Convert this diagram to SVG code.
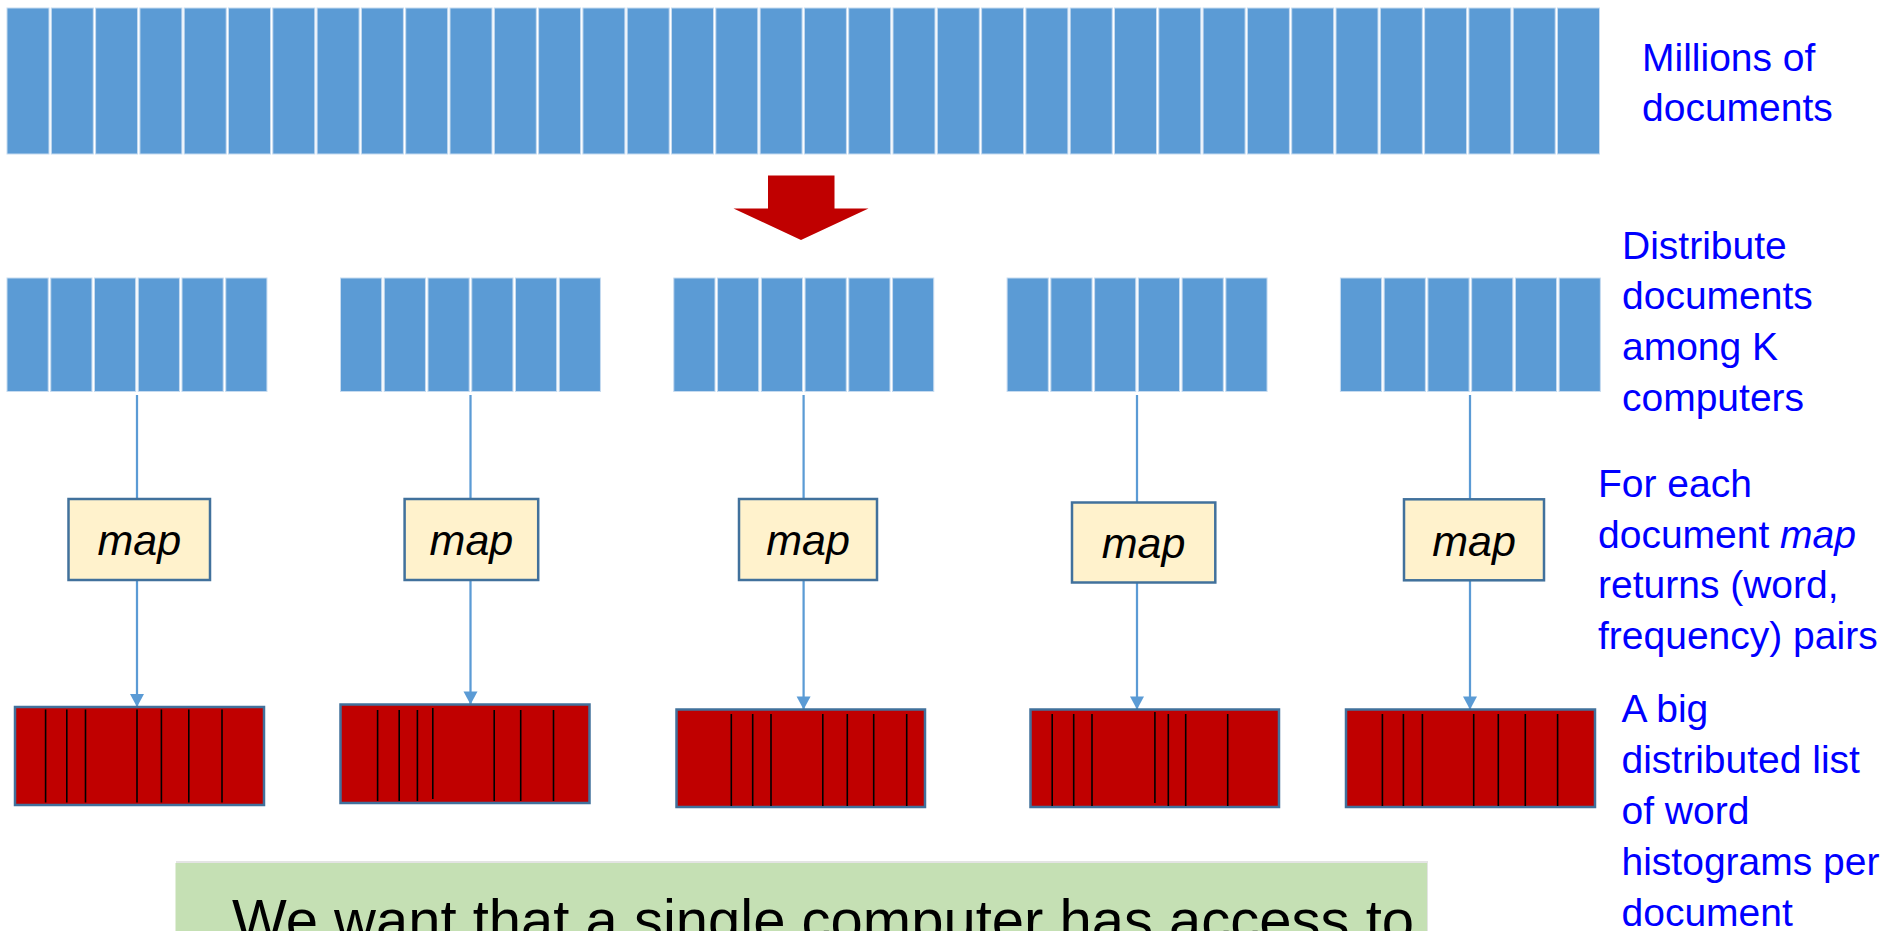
<svg xmlns="http://www.w3.org/2000/svg" xmlns:xlink="http://www.w3.org/1999/xlink" width="1883" height="931" viewBox="0 0 1883 931">
  <style>
    .doc { fill: #5B9BD5; stroke: #C6DBF0; stroke-width: 1; }
    .mapbox { fill: #FFF2CC; stroke: #41719C; stroke-width: 2.5; }
    .maptxt { font-family: "Liberation Sans", Arial, sans-serif; font-style: italic; font-size: 43px; fill: #000; text-anchor: middle; }
    .hist { fill: #C00000; stroke: #41719C; stroke-width: 2.5; }
    .div { stroke: #000; stroke-width: 1.6; }
    .wire { stroke: #5B9BD5; stroke-width: 2.25; fill: none; }
    .note { font-family: "Liberation Sans", Arial, sans-serif; font-size: 39px; fill: #0000FF; }
    .big { font-family: "Liberation Sans", Arial, sans-serif; font-size: 58px; fill: #000; }
  </style>
  <defs>
    <!-- one computer's share of documents: six cells -->
    <g id="chunk">
      <rect class="doc" x="0" y="0" width="41.2" height="113.5"/>
      <rect class="doc" x="43.75" y="0" width="41.2" height="113.5"/>
      <rect class="doc" x="87.5" y="0" width="41.2" height="113.5"/>
      <rect class="doc" x="131.25" y="0" width="41.2" height="113.5"/>
      <rect class="doc" x="175" y="0" width="41.2" height="113.5"/>
      <rect class="doc" x="218.75" y="0" width="41.2" height="113.5"/>
    </g>
    <rect id="cell" class="doc" width="42" height="146"/>
    <marker id="tip" markerUnits="userSpaceOnUse" markerWidth="16" markerHeight="16" viewBox="0 0 16 16" refX="14" refY="8" orient="auto">
      <path d="M1,1 L14,8 L1,15 Z" fill="#5B9BD5"/>
    </marker>
  </defs>

  <rect width="1883" height="931" fill="#FFFFFF"/>

  <!-- all documents -->
  <g id="all-docs">
    <use xlink:href="#cell" x="7" y="8"/>
    <use xlink:href="#cell" x="51.3" y="8"/>
    <use xlink:href="#cell" x="95.6" y="8"/>
    <use xlink:href="#cell" x="139.9" y="8"/>
    <use xlink:href="#cell" x="184.2" y="8"/>
    <use xlink:href="#cell" x="228.5" y="8"/>
    <use xlink:href="#cell" x="272.8" y="8"/>
    <use xlink:href="#cell" x="317.1" y="8"/>
    <use xlink:href="#cell" x="361.4" y="8"/>
    <use xlink:href="#cell" x="405.7" y="8"/>
    <use xlink:href="#cell" x="450" y="8"/>
    <use xlink:href="#cell" x="494.3" y="8"/>
    <use xlink:href="#cell" x="538.6" y="8"/>
    <use xlink:href="#cell" x="582.9" y="8"/>
    <use xlink:href="#cell" x="627.2" y="8"/>
    <use xlink:href="#cell" x="671.5" y="8"/>
    <use xlink:href="#cell" x="715.8" y="8"/>
    <use xlink:href="#cell" x="760.1" y="8"/>
    <use xlink:href="#cell" x="804.4" y="8"/>
    <use xlink:href="#cell" x="848.7" y="8"/>
    <use xlink:href="#cell" x="893" y="8"/>
    <use xlink:href="#cell" x="937.3" y="8"/>
    <use xlink:href="#cell" x="981.6" y="8"/>
    <use xlink:href="#cell" x="1025.9" y="8"/>
    <use xlink:href="#cell" x="1070.2" y="8"/>
    <use xlink:href="#cell" x="1114.5" y="8"/>
    <use xlink:href="#cell" x="1158.8" y="8"/>
    <use xlink:href="#cell" x="1203.1" y="8"/>
    <use xlink:href="#cell" x="1247.4" y="8"/>
    <use xlink:href="#cell" x="1291.7" y="8"/>
    <use xlink:href="#cell" x="1336" y="8"/>
    <use xlink:href="#cell" x="1380.3" y="8"/>
    <use xlink:href="#cell" x="1424.6" y="8"/>
    <use xlink:href="#cell" x="1468.9" y="8"/>
    <use xlink:href="#cell" x="1513.2" y="8"/>
    <use xlink:href="#cell" x="1557.5" y="8"/>
  </g>

  <!-- split arrow -->
  <g id="split-arrow">
    <path d="M768,175.5 L834.5,175.5 L834.5,208.5 L868.5,208.5 L801,240 L733.5,208.5 L768,208.5 Z" fill="#C00000"/>
  </g>

  <!-- per-computer document shares -->
  <g id="share-1"><use xlink:href="#chunk" x="7" y="278"/></g>
  <g id="share-2"><use xlink:href="#chunk" x="340.5" y="278"/></g>
  <g id="share-3"><use xlink:href="#chunk" x="673.8" y="278"/></g>
  <g id="share-4"><use xlink:href="#chunk" x="1007.1" y="278"/></g>
  <g id="share-5"><use xlink:href="#chunk" x="1340.4" y="278"/></g>

  <!-- connectors -->
  <g id="connectors">
    <line class="wire" x1="137" y1="395" x2="137" y2="499"/>
    <line class="wire" x1="470.5" y1="395" x2="470.5" y2="499"/>
    <line class="wire" x1="803.6" y1="395" x2="803.6" y2="499"/>
    <line class="wire" x1="1137" y1="395" x2="1137" y2="502.5"/>
    <line class="wire" x1="1470" y1="395" x2="1470" y2="499"/>
    <line class="wire" x1="137" y1="580" x2="137" y2="707" marker-end="url(#tip)"/>
    <line class="wire" x1="470.5" y1="580" x2="470.5" y2="704.5" marker-end="url(#tip)"/>
    <line class="wire" x1="803.6" y1="580" x2="803.6" y2="709.5" marker-end="url(#tip)"/>
    <line class="wire" x1="1137" y1="582.5" x2="1137" y2="709.5" marker-end="url(#tip)"/>
    <line class="wire" x1="1470" y1="580" x2="1470" y2="709.5" marker-end="url(#tip)"/>
  </g>

  <!-- map steps -->
  <g id="map-1">
    <rect class="mapbox" x="68.5" y="499" width="141.5" height="81"/>
    <text class="maptxt" x="139.3" y="555">map</text>
  </g>
  <g id="map-2">
    <rect class="mapbox" x="404.6" y="499" width="133.6" height="81"/>
    <text class="maptxt" x="471.4" y="555">map</text>
  </g>
  <g id="map-3">
    <rect class="mapbox" x="739" y="499" width="138" height="81"/>
    <text class="maptxt" x="808" y="555">map</text>
  </g>
  <g id="map-4">
    <rect class="mapbox" x="1072" y="502.5" width="143.3" height="80"/>
    <text class="maptxt" x="1143.6" y="558">map</text>
  </g>
  <g id="map-5">
    <rect class="mapbox" x="1404" y="499.3" width="140" height="81"/>
    <text class="maptxt" x="1474" y="555.5">map</text>
  </g>

  <!-- word histogram lists -->
  <g id="hist-1">
    <rect class="hist" x="15" y="707" width="249" height="98"/>
    <g class="div">
      <line x1="45.6" y1="709.5" x2="45.6" y2="802.5"/>
      <line x1="66.8" y1="709.5" x2="66.8" y2="802.5"/>
      <line x1="85.5" y1="709.5" x2="85.5" y2="802.5"/>
      <line x1="137" y1="709.5" x2="137" y2="802.5"/>
      <line x1="161.4" y1="709.5" x2="161.4" y2="802.5"/>
      <line x1="188.8" y1="709.5" x2="188.8" y2="802.5"/>
      <line x1="222" y1="709.5" x2="222" y2="802.5"/>
    </g>
  </g>
  <g id="hist-2">
    <rect class="hist" x="340.5" y="704.5" width="249" height="98.5"/>
    <g class="div">
      <line x1="377.6" y1="710" x2="377.6" y2="801"/>
      <line x1="399.2" y1="710" x2="399.2" y2="801"/>
      <line x1="417.4" y1="710" x2="417.4" y2="801"/>
      <line x1="432.8" y1="708" x2="432.8" y2="799"/>
      <line x1="494.2" y1="710" x2="494.2" y2="801"/>
      <line x1="520.7" y1="710" x2="520.7" y2="801"/>
      <line x1="553.5" y1="710" x2="553.5" y2="801"/>
    </g>
  </g>
  <g id="hist-3">
    <rect class="hist" x="676.5" y="709.5" width="248.5" height="97.5"/>
    <g class="div">
      <line x1="731.3" y1="714" x2="731.3" y2="806"/>
      <line x1="752.7" y1="714" x2="752.7" y2="806"/>
      <line x1="771" y1="714" x2="771" y2="806"/>
      <line x1="822.8" y1="714" x2="822.8" y2="806"/>
      <line x1="847.3" y1="714" x2="847.3" y2="806"/>
      <line x1="873.7" y1="714" x2="873.7" y2="806"/>
      <line x1="906.7" y1="714" x2="906.7" y2="806"/>
    </g>
  </g>
  <g id="hist-4">
    <rect class="hist" x="1030.5" y="709.5" width="248.5" height="97.5"/>
    <g class="div">
      <line x1="1052.2" y1="714" x2="1052.2" y2="806"/>
      <line x1="1073.7" y1="714" x2="1073.7" y2="806"/>
      <line x1="1092" y1="714" x2="1092" y2="806"/>
      <line x1="1154.9" y1="712" x2="1154.9" y2="803"/>
      <line x1="1168.3" y1="714" x2="1168.3" y2="806"/>
      <line x1="1185.7" y1="714" x2="1185.7" y2="806"/>
      <line x1="1227.7" y1="714" x2="1227.7" y2="806"/>
    </g>
  </g>
  <g id="hist-5">
    <rect class="hist" x="1346" y="709.5" width="249" height="97.5"/>
    <g class="div">
      <line x1="1382.4" y1="714" x2="1382.4" y2="806"/>
      <line x1="1403.4" y1="714" x2="1403.4" y2="806"/>
      <line x1="1422.4" y1="714" x2="1422.4" y2="806"/>
      <line x1="1473.7" y1="714" x2="1473.7" y2="806"/>
      <line x1="1498.3" y1="714" x2="1498.3" y2="806"/>
      <line x1="1525.3" y1="714" x2="1525.3" y2="806"/>
      <line x1="1557.6" y1="714" x2="1557.6" y2="806"/>
    </g>
  </g>

  <!-- side notes -->
  <g id="note-docs" class="note">
    <text x="1642" y="70.5">Millions of</text>
    <text x="1642" y="120.5">documents</text>
  </g>
  <g id="note-distribute" class="note">
    <text x="1622" y="258.5">Distribute</text>
    <text x="1622" y="309.3">documents</text>
    <text x="1622" y="360">among K</text>
    <text x="1622" y="410.7">computers</text>
  </g>
  <g id="note-map" class="note">
    <text x="1598" y="496.7">For each</text>
    <text x="1598" y="547.7">document <tspan font-style="italic">map</tspan></text>
    <text x="1598" y="598">returns (word,</text>
    <text x="1598" y="649">frequency) pairs</text>
  </g>
  <g id="note-hist" class="note">
    <text x="1621.5" y="721.7">A big</text>
    <text x="1621.5" y="773.3">distributed list</text>
    <text x="1621.5" y="824">of word</text>
    <text x="1621.5" y="875">histograms per</text>
    <text x="1621.5" y="925.5">document</text>
  </g>

  <!-- goal callout -->
  <g id="goal">
    <rect x="176" y="861" width="1252" height="80" fill="#E4E4E4"/>
    <rect x="175.5" y="863" width="1251.5" height="80" fill="#C5E0B4"/>
    <text class="big" x="232" y="940">We want that a single computer has access to</text>
  </g>
</svg>
